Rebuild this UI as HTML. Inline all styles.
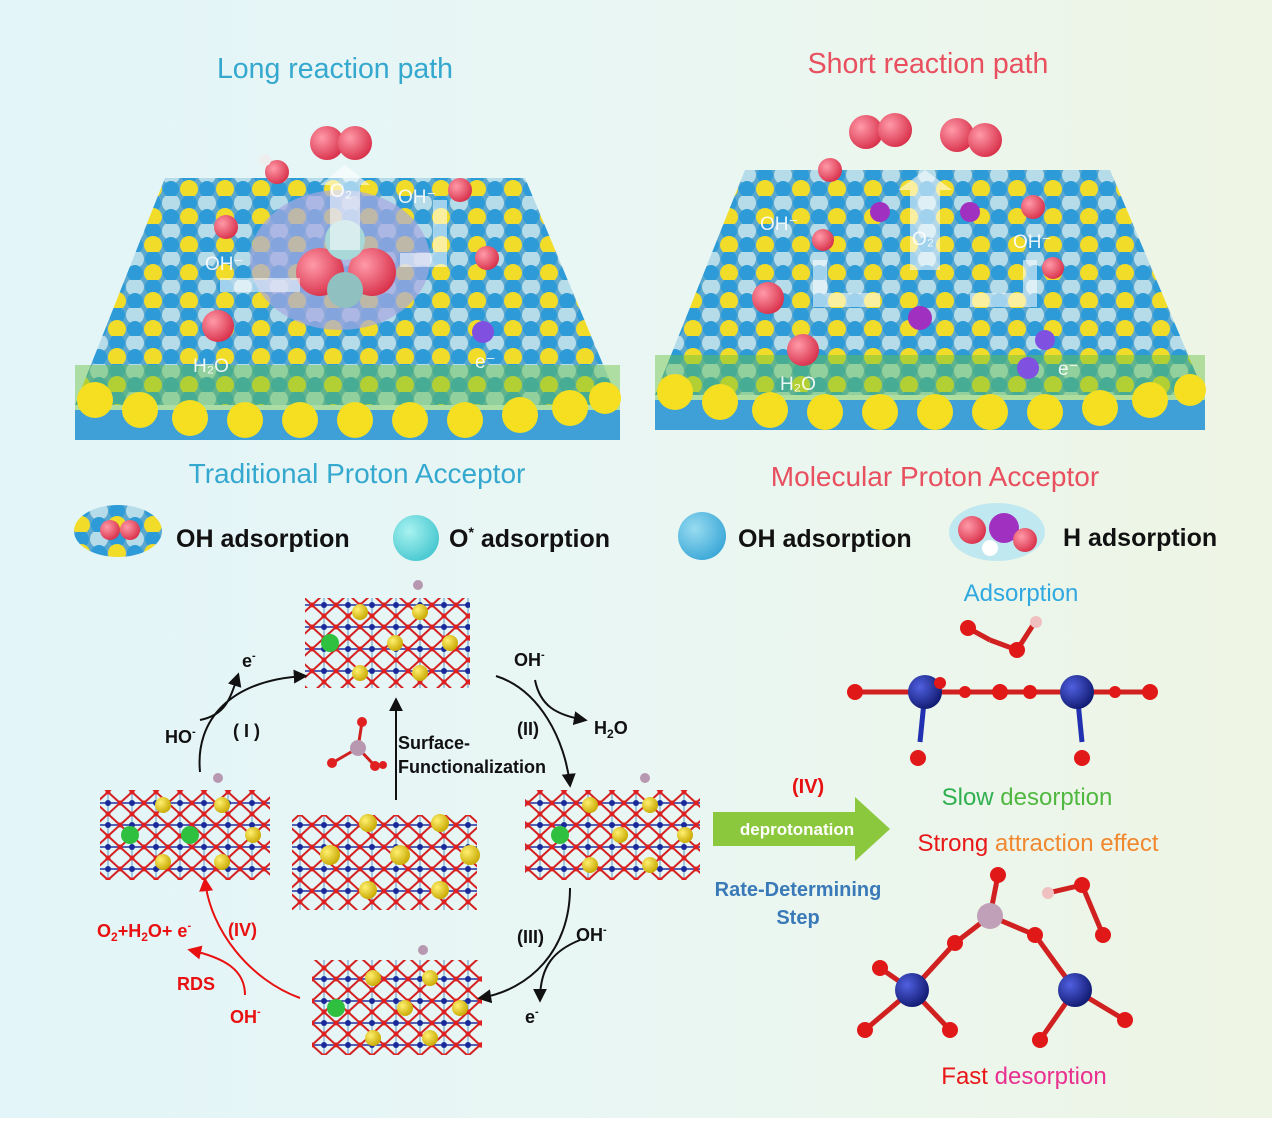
<!DOCTYPE html>
<html><head><meta charset="utf-8"><style>
html,body{margin:0;padding:0;}
body{width:1272px;height:1118px;overflow:hidden;font-family:"Liberation Sans",sans-serif;}
</style></head><body>
<svg width="1272" height="1118" viewBox="0 0 1272 1118" xmlns="http://www.w3.org/2000/svg" font-family="Liberation Sans, sans-serif">
<defs>
<linearGradient id="bg" x1="0" y1="0" x2="1" y2="0">
<stop offset="0" stop-color="#e3f5f9"/><stop offset="0.5" stop-color="#e9f6f3"/><stop offset="1" stop-color="#eef5e4"/>
</linearGradient>
<pattern id="slab" width="36" height="28" patternUnits="userSpaceOnUse">
<rect width="36" height="28" fill="#5aa8d0"/>
<circle cx="9" cy="7" r="8" fill="#2d9bd8"/>
<circle cx="27" cy="7" r="9" fill="#b6dcea"/>
<circle cx="9" cy="21" r="9" fill="#f1dc2a"/>
<circle cx="27" cy="21" r="8" fill="#2d9bd8"/>
</pattern>
<pattern id="cry" width="24" height="22" patternUnits="userSpaceOnUse">
<path d="M0 11 L12 0 L24 11 L12 22 Z" fill="none" stroke="#d42020" stroke-width="2"/>
<line x1="12" y1="0" x2="12" y2="22" stroke="#8ab8d8" stroke-width="1.5"/>
<line x1="0" y1="11" x2="24" y2="11" stroke="#2030a0" stroke-width="1.5"/>
<circle cx="12" cy="11" r="3" fill="#1a2a9a"/>
<circle cx="0" cy="11" r="2.5" fill="#e02020"/><circle cx="24" cy="11" r="2.5" fill="#e02020"/>
<circle cx="12" cy="0" r="2.5" fill="#e02020"/><circle cx="12" cy="22" r="2.5" fill="#e02020"/>
</pattern>
<radialGradient id="ball" cx="0.35" cy="0.35" r="0.7"><stop offset="0" stop-color="#ff9aa8"/><stop offset="1" stop-color="#d8304a"/></radialGradient>
<radialGradient id="cyan" cx="0.35" cy="0.35" r="0.7"><stop offset="0" stop-color="#a8f2f0"/><stop offset="1" stop-color="#48c8d0"/></radialGradient>
<radialGradient id="blu" cx="0.35" cy="0.35" r="0.7"><stop offset="0" stop-color="#98dcf0"/><stop offset="1" stop-color="#3ca8d8"/></radialGradient>
<radialGradient id="nb" cx="0.35" cy="0.35" r="0.7"><stop offset="0" stop-color="#5060e0"/><stop offset="1" stop-color="#101a70"/></radialGradient>
<radialGradient id="yb" cx="0.35" cy="0.35" r="0.7"><stop offset="0" stop-color="#fff070"/><stop offset="1" stop-color="#c8a800"/></radialGradient>
<marker id="ak" viewBox="0 0 10 10" refX="8" refY="5" markerWidth="7" markerHeight="7" orient="auto"><path d="M0 0L10 5L0 10z" fill="#111"/></marker>
<marker id="ar" viewBox="0 0 10 10" refX="8" refY="5" markerWidth="7" markerHeight="7" orient="auto"><path d="M0 0L10 5L0 10z" fill="#e81010"/></marker>
</defs>
<rect width="1272" height="1118" fill="url(#bg)"/>

<text x="335" y="78" font-size="28.5" fill="#34a8cf" text-anchor="middle">Long reaction path</text>
<text x="928" y="73" font-size="28.5" fill="#e85060" text-anchor="middle">Short reaction path</text>

<!-- left slab -->
<polygon points="75,410 620,410 620,440 75,440" fill="#3fa0d8"/>
<polygon points="165,178 525,178 620,405 75,405" fill="url(#slab)"/>
<polygon points="75,365 620,365 620,410 75,410" fill="#66c040" opacity="0.45"/>
<g fill="#f6df20">
<circle cx="95" cy="400" r="18"/><circle cx="140" cy="410" r="18"/><circle cx="190" cy="418" r="18"/><circle cx="245" cy="420" r="18"/><circle cx="300" cy="420" r="18"/><circle cx="355" cy="420" r="18"/><circle cx="410" cy="420" r="18"/><circle cx="465" cy="420" r="18"/><circle cx="520" cy="415" r="18"/><circle cx="570" cy="408" r="18"/><circle cx="605" cy="398" r="16"/>
</g>
<g fill="#a8a8e0" opacity="0.7"><ellipse cx="340" cy="260" rx="90" ry="70"/></g>
<circle cx="320" cy="272" r="24" fill="url(#ball)"/><circle cx="372" cy="272" r="24" fill="url(#ball)"/>
<circle cx="345" cy="240" r="20" fill="#a8d8d8"/><circle cx="345" cy="290" r="18" fill="#90c0c0"/>
<path d="M330 250 V185 H320 L345 165 L370 185 H360 V250Z" fill="#fff" opacity="0.55"/>
<path d="M220 285 H300" stroke="#fff" stroke-width="14" opacity="0.55"/>
<path d="M440 200 V260 H400" stroke="#fff" stroke-width="14" fill="none" opacity="0.55"/>
<circle cx="327" cy="143" r="17" fill="url(#ball)"/><circle cx="355" cy="143" r="17" fill="url(#ball)"/>
<circle cx="277" cy="172" r="12" fill="url(#ball)"/><circle cx="265" cy="160" r="6" fill="#eee"/>
<circle cx="460" cy="190" r="12" fill="url(#ball)"/><circle cx="226" cy="227" r="12" fill="url(#ball)"/>
<circle cx="487" cy="258" r="12" fill="url(#ball)"/><circle cx="218" cy="326" r="16" fill="url(#ball)"/>
<circle cx="483" cy="332" r="11" fill="#8050e0"/>
<g fill="#fff" font-size="19" opacity="0.9"><text x="330" y="197">O₂</text><text x="398" y="203">OH⁻</text><text x="205" y="270">OH⁻</text><text x="193" y="372">H₂O</text><text x="475" y="368">e⁻</text></g>

<!-- right slab -->
<polygon points="655,400 1205,400 1205,430 655,430" fill="#3fa0d8"/>
<polygon points="745,170 1110,170 1205,395 655,395" fill="url(#slab)"/>
<polygon points="655,355 1205,355 1205,400 655,400" fill="#66c040" opacity="0.45"/>
<g fill="#f6df20">
<circle cx="675" cy="392" r="18"/><circle cx="720" cy="402" r="18"/><circle cx="770" cy="410" r="18"/><circle cx="825" cy="412" r="18"/><circle cx="880" cy="412" r="18"/><circle cx="935" cy="412" r="18"/><circle cx="990" cy="412" r="18"/><circle cx="1045" cy="412" r="18"/><circle cx="1100" cy="408" r="18"/><circle cx="1150" cy="400" r="18"/><circle cx="1190" cy="390" r="16"/>
</g>
<path d="M910 270 V190 H898 L925 170 L952 190 H940 V270Z" fill="#fff" opacity="0.55"/>
<path d="M820 260 V300 H880" stroke="#fff" stroke-width="14" fill="none" opacity="0.55"/>
<path d="M1030 260 V300 H970" stroke="#fff" stroke-width="14" fill="none" opacity="0.55"/>
<circle cx="866" cy="132" r="17" fill="url(#ball)"/><circle cx="895" cy="130" r="17" fill="url(#ball)"/>
<circle cx="957" cy="135" r="17" fill="url(#ball)"/><circle cx="985" cy="140" r="17" fill="url(#ball)"/>
<circle cx="830" cy="170" r="12" fill="url(#ball)"/><circle cx="1033" cy="207" r="12" fill="url(#ball)"/>
<circle cx="823" cy="240" r="11" fill="url(#ball)"/><circle cx="1053" cy="268" r="11" fill="url(#ball)"/>
<circle cx="768" cy="298" r="16" fill="url(#ball)"/><circle cx="803" cy="350" r="16" fill="url(#ball)"/>
<circle cx="920" cy="318" r="12" fill="#a030c0"/><circle cx="880" cy="212" r="10" fill="#a030c0"/><circle cx="970" cy="212" r="10" fill="#a030c0"/>
<circle cx="1028" cy="368" r="11" fill="#8050e0"/><circle cx="1045" cy="340" r="10" fill="#8050e0"/>
<g fill="#fff" font-size="19" opacity="0.9"><text x="912" y="245">O₂</text><text x="760" y="230">OH⁻</text><text x="1013" y="248">OH⁻</text><text x="780" y="390">H₂O</text><text x="1058" y="375">e⁻</text></g>

<text x="357" y="483" font-size="28" fill="#34a8cf" text-anchor="middle">Traditional Proton Acceptor</text>
<text x="935" y="486" font-size="28" fill="#e85060" text-anchor="middle">Molecular Proton Acceptor</text>

<!-- legend -->
<ellipse cx="118" cy="531" rx="44" ry="26" fill="url(#slab)"/>
<circle cx="110" cy="530" r="10" fill="url(#ball)"/><circle cx="130" cy="530" r="10" fill="url(#ball)"/>
<text x="176" y="547" font-size="25" font-weight="bold" fill="#111">OH adsorption</text>
<circle cx="416" cy="538" r="23" fill="url(#cyan)"/>
<text x="449" y="547" font-size="25" font-weight="bold" fill="#111">O<tspan font-size="14" dy="-10">*</tspan><tspan dy="10"> adsorption</tspan></text>
<circle cx="702" cy="536" r="24" fill="url(#blu)"/>
<text x="738" y="547" font-size="25" font-weight="bold" fill="#111">OH adsorption</text>
<ellipse cx="997" cy="532" rx="48" ry="29" fill="#c0e8f0"/>
<circle cx="972" cy="530" r="14" fill="url(#ball)"/><circle cx="1004" cy="528" r="15" fill="#a030c0"/><circle cx="1025" cy="540" r="12" fill="url(#ball)"/><circle cx="990" cy="548" r="8" fill="#fff"/>
<text x="1063" y="546" font-size="25" font-weight="bold" fill="#111">H adsorption</text>

<!-- crystals -->
<g>
<rect x="305" y="598" width="165" height="90" fill="url(#cry)"/>
<rect x="100" y="790" width="170" height="90" fill="url(#cry)"/>
<rect x="292" y="815" width="185" height="95" fill="url(#cry)"/>
<rect x="525" y="790" width="175" height="90" fill="url(#cry)"/>
<rect x="312" y="960" width="170" height="95" fill="url(#cry)"/>
</g>
<g fill="url(#yb)">
<circle cx="360" cy="612" r="8"/><circle cx="420" cy="612" r="8"/><circle cx="395" cy="643" r="8"/><circle cx="450" cy="643" r="8"/><circle cx="360" cy="673" r="8"/><circle cx="420" cy="673" r="8"/>
<circle cx="163" cy="805" r="8"/><circle cx="222" cy="805" r="8"/><circle cx="253" cy="835" r="8"/><circle cx="163" cy="862" r="8"/><circle cx="222" cy="862" r="8"/>
<circle cx="368" cy="823" r="9"/><circle cx="440" cy="823" r="9"/><circle cx="330" cy="855" r="10"/><circle cx="400" cy="855" r="10"/><circle cx="470" cy="855" r="10"/><circle cx="368" cy="890" r="9"/><circle cx="440" cy="890" r="9"/>
<circle cx="590" cy="805" r="8"/><circle cx="650" cy="805" r="8"/><circle cx="620" cy="835" r="8"/><circle cx="685" cy="835" r="8"/><circle cx="590" cy="865" r="8"/><circle cx="650" cy="865" r="8"/>
<circle cx="373" cy="978" r="8"/><circle cx="430" cy="978" r="8"/><circle cx="405" cy="1008" r="8"/><circle cx="460" cy="1008" r="8"/><circle cx="373" cy="1038" r="8"/><circle cx="430" cy="1038" r="8"/>
</g>
<g fill="#30c040"><circle cx="330" cy="643" r="9"/><circle cx="130" cy="835" r="9"/><circle cx="190" cy="835" r="9"/><circle cx="560" cy="835" r="9"/><circle cx="336" cy="1008" r="9"/></g>
<g fill="#b898b0"><circle cx="418" cy="585" r="5"/><circle cx="218" cy="778" r="5"/><circle cx="645" cy="778" r="5"/><circle cx="423" cy="950" r="5"/></g>
<!-- PO4 -->
<line x1="358" y1="748" x2="362" y2="722" stroke="#d02020" stroke-width="3"/>
<line x1="358" y1="748" x2="332" y2="763" stroke="#d02020" stroke-width="3"/>
<line x1="358" y1="748" x2="375" y2="766" stroke="#d02020" stroke-width="3"/>
<circle cx="358" cy="748" r="8" fill="#b898b0"/><circle cx="362" cy="722" r="5" fill="#e02020"/><circle cx="332" cy="763" r="5" fill="#e02020"/><circle cx="375" cy="766" r="5" fill="#e02020"/><circle cx="383" cy="765" r="4" fill="#e02020"/>

<!-- cycle arrows -->
<g stroke="#111" stroke-width="2" fill="none">
<path d="M200 772 C195 720 230 680 305 676" marker-end="url(#ak)"/>
<path d="M200 720 C225 715 230 700 238 675" marker-end="url(#ak)"/>
<path d="M496 676 C540 690 565 740 570 785" marker-end="url(#ak)"/>
<path d="M535 680 C540 705 555 715 585 720" marker-end="url(#ak)"/>
<path d="M396 800 V700" marker-end="url(#ak)"/>
<path d="M570 888 C570 950 530 990 480 998" marker-end="url(#ak)"/>
<path d="M580 940 C555 950 540 965 540 1000" marker-end="url(#ak)"/>
</g>
<g stroke="#e81010" stroke-width="2" fill="none">
<path d="M300 998 C250 980 210 930 205 880" marker-end="url(#ar)"/>
<path d="M245 995 C245 970 225 958 190 950" marker-end="url(#ar)"/>
</g>
<g font-size="18" font-weight="bold" fill="#111">
<text x="242" y="667">e<tspan font-size="11" dy="-8">-</tspan></text>
<text x="165" y="743">HO<tspan font-size="11" dy="-8">-</tspan></text>
<text x="233" y="737">( I )</text>
<text x="514" y="666">OH<tspan font-size="11" dy="-8">-</tspan></text>
<text x="517" y="735">(II)</text>
<text x="594" y="734">H<tspan font-size="12" dy="4">2</tspan><tspan dy="-4">O</tspan></text>
<text x="398" y="749">Surface-</text>
<text x="398" y="773">Functionalization</text>
<text x="517" y="943">(III)</text>
<text x="576" y="941">OH<tspan font-size="11" dy="-8">-</tspan></text>
<text x="525" y="1023">e<tspan font-size="11" dy="-8">-</tspan></text>
</g>
<g font-size="18" font-weight="bold" fill="#e81010">
<text x="97" y="937">O<tspan font-size="12" dy="4">2</tspan><tspan dy="-4">+H</tspan><tspan font-size="12" dy="4">2</tspan><tspan dy="-4">O+ e</tspan><tspan font-size="11" dy="-8">-</tspan></text>
<text x="228" y="936">(IV)</text>
<text x="177" y="990">RDS</text>
<text x="230" y="1023">OH<tspan font-size="11" dy="-8">-</tspan></text>
<text x="792" y="793" font-size="20">(IV)</text>
</g>

<!-- deprotonation arrow -->
<path d="M713 812 H855 V797 L890 829 L855 861 V846 H713Z" fill="#8cc83e"/>
<text x="797" y="835" font-size="17" font-weight="bold" fill="#fff" text-anchor="middle">deprotonation</text>
<g font-size="20" font-weight="bold" fill="#3a7ab8" text-anchor="middle"><text x="798" y="896">Rate-Determining</text><text x="798" y="924">Step</text></g>

<!-- right molecules -->
<text x="1021" y="601" font-size="24" fill="#30a8e0" text-anchor="middle">Adsorption</text>
<g stroke-width="5">
<line x1="855" y1="692" x2="1150" y2="692" stroke="#d02020"/>
<line x1="925" y1="692" x2="920" y2="742" stroke="#2030b0"/>
<line x1="1077" y1="692" x2="1082" y2="742" stroke="#2030b0"/>
<line x1="968" y1="628" x2="990" y2="640" stroke="#d02020"/>
<line x1="990" y1="640" x2="1017" y2="650" stroke="#d02020"/>
<line x1="1017" y1="650" x2="1035" y2="622" stroke="#d02020"/>
</g>
<circle cx="925" cy="692" r="17" fill="url(#nb)"/><circle cx="1077" cy="692" r="17" fill="url(#nb)"/>
<g fill="#e01818"><circle cx="855" cy="692" r="8"/><circle cx="1000" cy="692" r="8"/><circle cx="1030" cy="692" r="7"/><circle cx="1150" cy="692" r="8"/><circle cx="918" cy="758" r="8"/><circle cx="1082" cy="758" r="8"/><circle cx="968" cy="628" r="8"/><circle cx="1017" cy="650" r="8"/><circle cx="940" cy="683" r="6"/><circle cx="1115" cy="692" r="6"/><circle cx="965" cy="692" r="6"/></g>
<circle cx="1036" cy="622" r="6" fill="#f0c0c0"/>
<text x="1027" y="805" font-size="24" fill="#30b050" text-anchor="middle">Slow <tspan fill="#50b840">desorption</tspan></text>
<text x="1038" y="851" font-size="24" fill="#e81818" text-anchor="middle">Strong <tspan fill="#f08830">attraction effect</tspan></text>
<g stroke-width="5">
<line x1="990" y1="916" x2="998" y2="875" stroke="#d02020"/>
<line x1="990" y1="916" x2="955" y2="943" stroke="#d02020"/>
<line x1="955" y1="943" x2="912" y2="990" stroke="#d02020"/>
<line x1="990" y1="916" x2="1035" y2="935" stroke="#d02020"/>
<line x1="1035" y1="935" x2="1075" y2="990" stroke="#d02020"/>
<line x1="912" y1="990" x2="880" y2="968" stroke="#d02020"/>
<line x1="912" y1="990" x2="865" y2="1030" stroke="#d02020"/>
<line x1="912" y1="990" x2="950" y2="1030" stroke="#d02020"/>
<line x1="1075" y1="990" x2="1040" y2="1040" stroke="#d02020"/>
<line x1="1075" y1="990" x2="1125" y2="1020" stroke="#d02020"/>
<line x1="1048" y1="893" x2="1082" y2="885" stroke="#d02020"/>
<line x1="1082" y1="885" x2="1103" y2="935" stroke="#d02020"/>
</g>
<circle cx="990" cy="916" r="13" fill="#c0a0b8"/>
<circle cx="912" cy="990" r="17" fill="url(#nb)"/><circle cx="1075" cy="990" r="17" fill="url(#nb)"/>
<g fill="#e01818"><circle cx="998" cy="875" r="8"/><circle cx="955" cy="943" r="8"/><circle cx="1035" cy="935" r="8"/><circle cx="880" cy="968" r="8"/><circle cx="865" cy="1030" r="8"/><circle cx="950" cy="1030" r="8"/><circle cx="1040" cy="1040" r="8"/><circle cx="1125" cy="1020" r="8"/><circle cx="1082" cy="885" r="8"/><circle cx="1103" cy="935" r="8"/></g>
<circle cx="1048" cy="893" r="6" fill="#f0c0c0"/>
<text x="1024" y="1084" font-size="24" fill="#e81818" text-anchor="middle">Fast <tspan fill="#e83090">desorption</tspan></text>
</svg>
</body></html>
